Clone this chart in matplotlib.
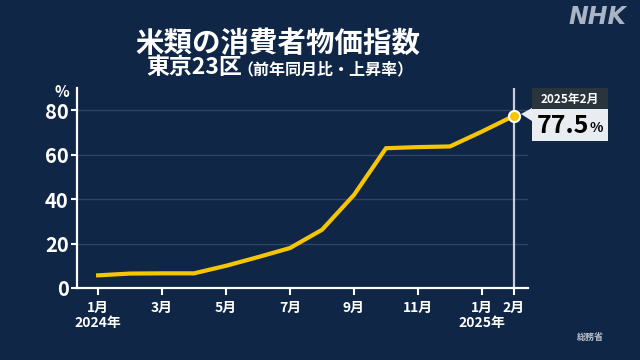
import matplotlib
matplotlib.use('Agg')
import matplotlib.pyplot as plt
from matplotlib.patches import Rectangle, Polygon

plt.rcParams['font.family'] = ['Noto Sans CJK JP', 'DejaVu Sans']

# rice CPI, Tokyo 23 wards, year-on-year change (%)
months = list(range(14))  # Jan 2024 .. Feb 2025
values = [5.7, 6.5, 6.6, 6.6, 10.0, 13.9, 18.0, 26.2, 41.9,
          62.9, 63.4, 63.7, 70.4, 77.5]
tick_pos = [0, 2, 4, 6, 8, 10, 12, 13]
tick_labels = ['1月', '3月', '5月', '7月', '9月', '11月', '1月', '2月']
year_pos = [0, 12]
year_labels = ['2024年', '2025年']
yticks = [0, 20, 40, 60, 80]

bg = '#0f2646'
yellow = '#f7c600'
W, H = 640, 360


def fx(px):
    return px / W


def fy(py):
    return 1 - py / H


fig = plt.figure(figsize=(6.4, 3.6), dpi=100, facecolor=bg)
ax = fig.add_axes([fx(77), fy(288), fx(528) - fx(77), fy(88) - fy(288)])
ax.set_facecolor(bg)

ax.set_xlim(-0.66, 13.44)
ax.set_ylim(0, 90)

for y in yticks[1:]:
    ax.axhline(y, color='#2c4466', lw=1, zorder=1)
ax.axvline(months[-1], color='#c9ced6', lw=1.6, zorder=2)

ax.plot(months, values, color=yellow, lw=3, solid_joinstyle='miter', zorder=3)
ax.plot(months[-1], values[-1], 'o', color=yellow, ms=8, mec='white',
        mew=1.5, zorder=4)

for s in ['top', 'right']:
    ax.spines[s].set_visible(False)
for s in ['left', 'bottom']:
    ax.spines[s].set_color('white')
    ax.spines[s].set_linewidth(1.6)

ax.set_xticks(tick_pos)
ax.set_xticklabels(tick_labels, fontsize=10, fontweight='bold', color='white')
ax.set_yticks(yticks)
ax.set_yticklabels([str(v) for v in yticks], fontsize=14.5,
                   fontweight='bold', color='white')
ax.tick_params(axis='x', length=5, width=1.5, color='white', pad=4)
ax.tick_params(axis='y', length=4, width=1.5, color='white', pad=2)

for xp, lab in zip(year_pos, year_labels):
    ax.text(xp, -0.175, lab, transform=ax.get_xaxis_transform(),
            ha='center', va='center', fontsize=10, fontweight='bold',
            color='white')

ax.text(-0.033, 0.98, '%', transform=ax.transAxes, ha='center', va='center',
        fontsize=11, fontweight='bold', color='white')

# titles
fig.text(fx(278), fy(43.5), '米類の消費者物価指数', ha='center', va='center',
         fontsize=20.5, fontweight='bold', color='white')
fig.text(fx(146), fy(68), '東京23区', ha='left', va='center',
         fontsize=16.5, fontweight='bold', color='white')
fig.text(fx(237), fy(69), '（前年同月比・上昇率）', ha='left', va='center',
         fontsize=11.5, fontweight='bold', color='white')

fig.text(fx(597), fy(17), 'NHK', ha='center', va='center', fontsize=17,
         fontweight='bold', style='italic', color='#aab4c4',
         family='DejaVu Sans')
fig.text(fx(590), fy(337), '総務省', ha='center', va='center', fontsize=6.5,
         fontweight='bold', color='#b8bfca')

# annotation box for the latest value
fig.patches.append(Rectangle((fx(532), fy(109)), fx(608) - fx(532),
                             fy(88) - fy(109), transform=fig.transFigure,
                             facecolor='#2a343c', edgecolor='none'))
fig.patches.append(Rectangle((fx(532), fy(141)), fx(608) - fx(532),
                             fy(109) - fy(141), transform=fig.transFigure,
                             facecolor='#e9ecf0', edgecolor='none'))
fig.patches.append(Polygon([(fx(521), fy(114)), (fx(532), fy(108)),
                            (fx(532), fy(121))], closed=True,
                           transform=fig.transFigure,
                           facecolor='#e9ecf0', edgecolor='none'))
fig.text(fx(570), fy(99), '2025年2月', ha='center', va='center',
         fontsize=8.5, fontweight='bold', color='white')
fig.text(fx(589), fy(126), str(values[-1]), ha='right', va='center',
         fontsize=18, fontweight='bold', color='black')
fig.text(fx(589), fy(128), '%', ha='left', va='center',
         fontsize=10, fontweight='bold', color='black')

fig.savefig('out.png', dpi=100, facecolor=bg)
